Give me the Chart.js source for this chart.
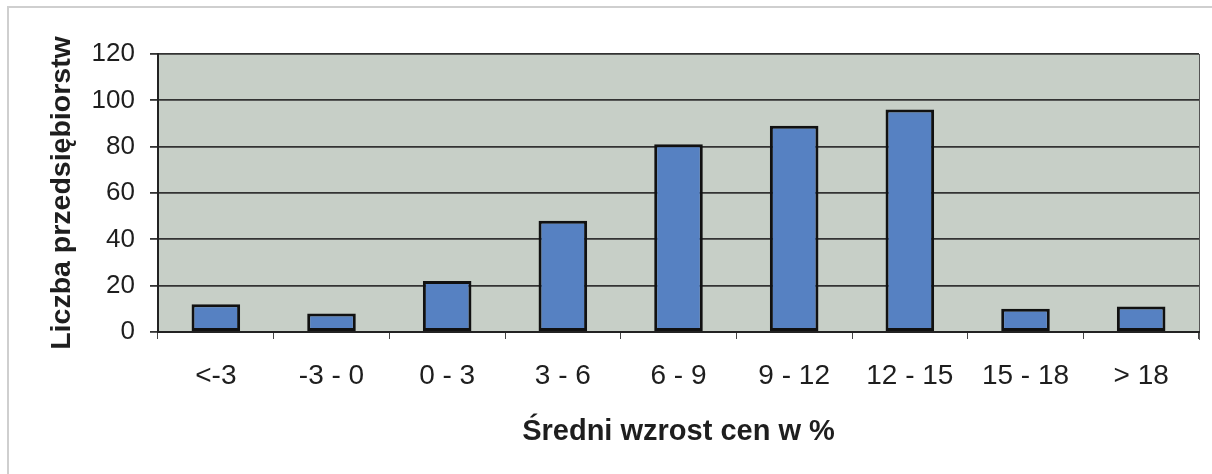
<!DOCTYPE html>
<html>
<head>
<meta charset="utf-8">
<script src="https://cdn.jsdelivr.net/npm/chart.js@4"></script>
<style>
  html, body { margin: 0; padding: 0; background: #fff; overflow: hidden; }
  #wrap { position: relative; width: 1212px; height: 474px; }
  #frame { position: absolute; left: 7px; top: 6px; width: 1300px; height: 600px;
           border: 2px solid #cfcfcf; box-sizing: border-box; }
  canvas { position: absolute; left: 0; top: 0; }
</style>
</head>
<body>
<div id="wrap">
  <div id="frame"></div>
  <canvas id="chart" width="1212" height="474"></canvas>
</div>
<script>
// ---------- DANE ----------
const przedzialy = ['<-3', '-3 - 0', '0 - 3', '3 - 6', '6 - 9', '9 - 12', '12 - 15', '15 - 18', '> 18'];
const liczbaFirm = [12, 8, 22, 48, 81, 89, 96, 10, 11];
const yMin = 0;
const yMax = 120;
const yKrok = 20;

const tekst = '#1e1e1e';

// tło obszaru wykresu
const tloWykresu = {
    id: 'tloWykresu',
    beforeDraw(chart) {
        const a = chart.chartArea;
        const c = chart.ctx;
        c.save();
        c.fillStyle = '#c7cfc7';
        c.fillRect(a.left, a.top, a.right - a.left, a.bottom - a.top);
        c.strokeStyle = '#555';
        c.lineWidth = 1;
        c.beginPath();
        c.moveTo(a.right + 0.5, a.top);
        c.lineTo(a.right + 0.5, a.bottom + 8);
        c.stroke();
        c.restore();
    }
};

// ---------- WYKRES ----------
const ctx = document.getElementById('chart');
const chart = new Chart(ctx, {
    type: 'bar',
    data: {
        labels: przedzialy,
        datasets: [{
            label: 'Liczba przedsiębiorstw',
            data: liczbaFirm,
            backgroundColor: '#5681c2',
            borderColor: '#111111',
            borderWidth: 3,
            borderSkipped: false,
            categoryPercentage: 1,
            barPercentage: 0.42
        }]
    },
    options: {
        responsive: false,
        animation: false,
        layout: { padding: { left: 0, right: 13, top: 54, bottom: 0 } },
        plugins: {
            legend: { display: false },
            tooltip: { enabled: false }
        },
        scales: {
            x: {
                afterFit: s => { s.height = 142; },
                grid: { display: true, drawOnChartArea: false, offset: true,
                        color: '#444', tickLength: 7, lineWidth: 1 },
                border: { display: true, color: '#222', width: 2 },
                ticks: { color: tekst, padding: 20,
                         font: { family: 'Liberation Sans, Arial', size: 28 } },
                title: { display: true, text: 'Średni wzrost cen w %', color: tekst,
                         padding: { top: 0, bottom: 25 },
                         font: { family: 'Liberation Sans, Arial', size: 29, weight: 'bold' } }
            },
            y: {
                min: yMin,
                max: yMax,
                afterFit: s => { s.width = 158; },
                grid: { color: '#333333', lineWidth: 1.8, tickLength: 8 },
                border: { display: true, color: '#222', width: 2 },
                ticks: { stepSize: yKrok, color: tekst, padding: 15,
                         font: { family: 'Liberation Sans, Arial', size: 26 } },
                title: { display: true, text: 'Liczba przedsiębiorstw', color: tekst,
                         padding: { top: 45, bottom: 0 },
                         font: { family: 'Liberation Sans, Arial', size: 28.5, weight: 'bold' } }
            }
        }
    },
    plugins: [tloWykresu]
});
</script>
</body>
</html>
